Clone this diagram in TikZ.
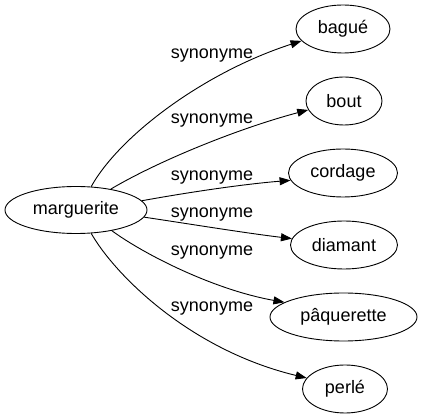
\documentclass[tikz,border=0pt]{standalone}
\usepackage{fontspec}
\setmainfont{Liberation Sans}
\usetikzlibrary{shapes.geometric,arrows.meta}
\tikzset{
  word/.style={draw,ellipse,inner sep=0pt,minimum height=48pt,font=\fontsize{18pt}{20pt}\selectfont,line width=0.9pt},
  rel/.style={font=\fontsize{18pt}{20pt}\selectfont,anchor=base,inner sep=0pt},
  link/.style={line width=0.9pt,-{Triangle[length=11pt,width=8pt]}}
}
\begin{document}
\begin{tikzpicture}[x=1pt,y=-1pt]
\useasboundingbox (0,0) rectangle (423,419);
\node[word,minimum width=142pt,minimum height=47pt] (m) at (76,210) {marguerite};
\node[word,minimum width=94pt] (bague) at (343,29) {bagué};
\node[word,minimum width=76pt] (bout) at (344,101) {bout};
\node[word,minimum width=109pt] (cordage) at (343,173) {cordage};
\node[word,minimum width=107pt] (diamant) at (344,245) {diamant};
\node[word,minimum width=147pt] (paq) at (343.5,317) {pâquerette};
\node[word,minimum width=85pt] (perle) at (345,389) {perlé};
\draw[link] (m.57) .. controls (120,135) and (205,72) .. (bague.196);
\draw[link] (m.31) .. controls (160,160) and (240,128) .. (bout.194);
\draw[link] (m.8.6) .. controls (190,192) and (245,184) .. (cordage.188);
\draw[link] (m.-6.7) .. controls (190,224) and (245,233) .. (diamant.173);
\draw[link] (m.-30.5) .. controls (145,255) and (215,290) .. (paq.166.5);
\draw[link] (m.-57) .. controls (115,275) and (190,350) .. (perle.164.6);
\node[rel] (l1) at (212,59) {synonyme};
\node[rel] (l2) at (212,124) {synonyme};
\node[rel] (l3) at (212,181) {synonyme};
\node[rel] (l4) at (212,218) {synonyme};
\node[rel] (l5) at (212,256) {synonyme};
\node[rel] (l6) at (212,312) {synonyme};
\end{tikzpicture}
\end{document}
